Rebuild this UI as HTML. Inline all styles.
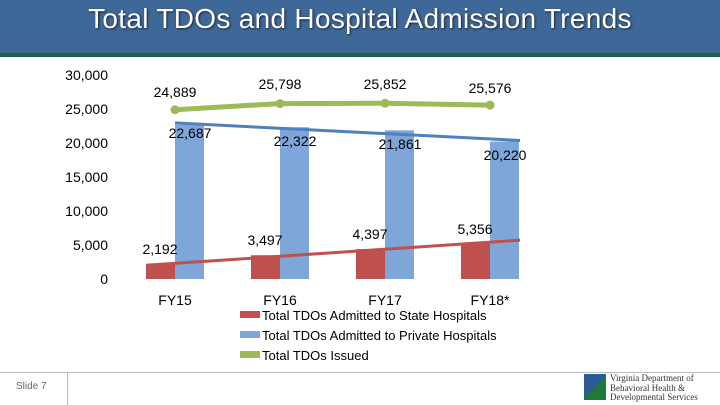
<!DOCTYPE html>
<html><head><meta charset="utf-8"><style>
body{margin:0;width:720px;height:405px;overflow:hidden;background:#fff;font-family:"Liberation Sans",sans-serif;position:relative}
</style></head><body>
<div style="position:absolute;left:0;top:0;width:720px;height:53px;background:#3d6898"></div>
<div style="position:absolute;left:0;top:53px;width:720px;height:4px;background:#1f6048"></div>
<div style="position:absolute;left:0;top:3px;width:720px;text-align:center;color:#fff;font-size:28px;letter-spacing:0.3px;text-shadow:1px 1px 2px #223">Total TDOs and Hospital Admission Trends</div>
<svg id="chart" width="720" height="405" style="position:absolute;left:0;top:0"></svg>
<div style="position:absolute;left:0;top:372px;width:720px;height:1px;background:#bbb"></div>
<div style="position:absolute;left:67px;top:372px;width:1px;height:33px;background:#bbb"></div>
<div style="position:absolute;left:16px;top:381px;font-size:10px;color:#666">Slide 7</div>
<div style="position:absolute;left:584px;top:374px;width:22px;height:26px;background:linear-gradient(135deg,#2b5c96 50%,#1f7a3a 50%)"></div>
<div style="position:absolute;left:610px;top:374px;font-family:'Liberation Serif',serif;font-size:9px;line-height:9.5px;color:#333">Virginia Department of<br>Behavioral Health &amp;<br>Developmental Services</div>
<script>
const categories=["FY15","FY16","FY17","FY18*"];
const stateVals=[2192,3497,4397,5356];
const privateVals=[22687,22322,21861,20220];
const totalVals=[24889,25798,25852,25576];
const yTicks=[0,5000,10000,15000,20000,25000,30000];
const svg=document.getElementById('chart');const NS="http://www.w3.org/2000/svg";
const y=v=>279-v*204/30000;const xc=i=>175+i*105;
function mk(t,a,name){const e=document.createElementNS(NS,t);for(const k in a)e.setAttribute(k,a[k]);


svg.appendChild(e);return e;}
function tx(x0,y0,s,anchor,name,size){const e=mk('text',{x:x0,y:y0,'text-anchor':anchor,'font-size':size||14,fill:'#000','font-family':'Liberation Sans,sans-serif'},name);e.textContent=s;return e;}
yTicks.forEach(v=>{tx(108,y(v)+5,v.toLocaleString('en-US'),'end','y-tick-'+v);});
categories.forEach((c,i)=>{
mk('rect',{x:xc(i)-29,y:y(stateVals[i]),width:29,height:279-y(stateVals[i]),fill:'#c0504d'},'bar-state-'+c);
mk('rect',{x:xc(i),y:y(privateVals[i]),width:29,height:279-y(privateVals[i]),fill:'#7ea6d9'},'bar-private-'+c);
tx(xc(i),305,c,'middle','x-label-'+c);
});
function trend(vals,x1,x2,color,name){const n=vals.length,m=vals.reduce((a,b)=>a+b)/n;let s=0,d=0;vals.forEach((v,i)=>{s+=(i-(n-1)/2)*(v-m);d+=(i-(n-1)/2)**2});const b=s/d;
const f=px=>m+b*((px-175)/105-(n-1)/2);mk('line',{x1:x1,y1:y(f(x1)),x2:x2,y2:y(f(x2)),stroke:color,'stroke-width':3},name);}
trend(stateVals,146,520,'#c0504d','trend-state');
trend(privateVals,175,520,'#4f81bd','trend-private');
mk('polyline',{points:totalVals.map((v,i)=>xc(i)+','+y(v)).join(' '),fill:'none',stroke:'#9bbb59','stroke-width':5},'line-total');
totalVals.forEach((v,i)=>mk('circle',{cx:xc(i),cy:y(v),r:4.5,fill:'#9bbb59'},'point-total-'+categories[i]));
const gY=[97,89,89,93];
totalVals.forEach((v,i)=>tx(xc(i),gY[i],v.toLocaleString('en-US'),'middle','label-total-'+categories[i]));
const pY=[138,146,149,160];
privateVals.forEach((v,i)=>tx(xc(i)+15,pY[i],v.toLocaleString('en-US'),'middle','label-private-'+categories[i]));
const sY=[254,245,239,234];
stateVals.forEach((v,i)=>tx(xc(i)-15,sY[i],v.toLocaleString('en-US'),'middle','label-state-'+categories[i]));
const leg=[["Total TDOs Admitted to State Hospitals",'#c0504d'],["Total TDOs Admitted to Private Hospitals",'#7ea6d9'],["Total TDOs Issued",'#9bbb59']];
leg.forEach((l,i)=>{mk('rect',{x:240,y:311+i*20,width:20,height:7,fill:l[1]},'legend-swatch-'+i);tx(262,320+i*20,l[0],'start','legend-entry-'+i,13);});
</script>
</body></html>
